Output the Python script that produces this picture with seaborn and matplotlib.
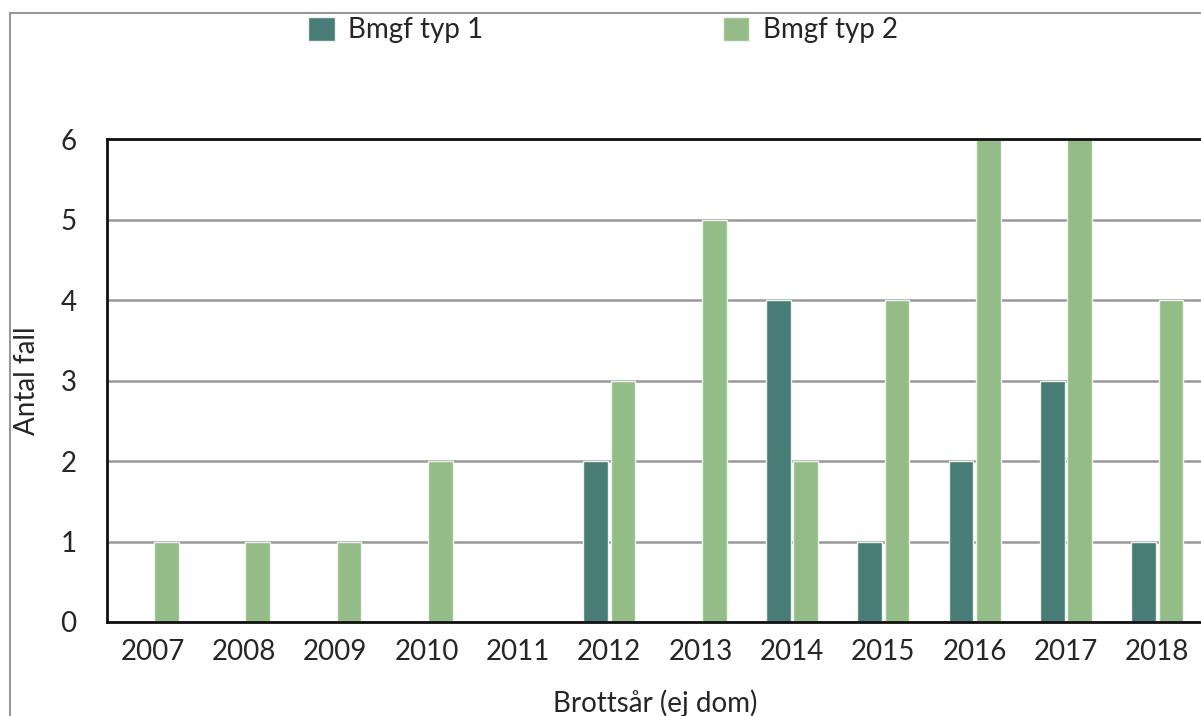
import pandas as pd
import seaborn as sns
import matplotlib.pyplot as plt
from matplotlib.patches import Rectangle

# Data
years = ["2007", "2008", "2009", "2010", "2011", "2012",
         "2013", "2014", "2015", "2016", "2017", "2018"]
typ1 = [0, 0, 0, 0, 0, 2, 0, 4, 1, 2, 3, 1]
typ2 = [1, 1, 1, 2, 0, 3, 5, 2, 4, 6, 6, 4]
series_names = ["Bmgf typ 1", "Bmgf typ 2"]
colors = ["#487D77", "#94BC87"]

df = pd.DataFrame({
    "year": years * 2,
    "count": typ1 + typ2,
    "type": [series_names[0]] * len(years) + [series_names[1]] * len(years),
})

sns.set_style("white")
plt.rcParams["font.family"] = ["Lato", "DejaVu Sans"]

fig = plt.figure(figsize=(12.01, 7.16), dpi=100)
ax = fig.add_axes([107 / 1201, 1 - 622 / 716, 1096 / 1201, 483 / 716])

sns.barplot(data=df, x="year", y="count", hue="type", order=years,
            hue_order=series_names, palette=colors, width=0.6, gap=0.1,
            edgecolor="#eef3ec", linewidth=1, saturation=1, ax=ax, legend=True)

ax.set_ylim(0, 6)
ax.set_xlim(-0.5, len(years) - 0.5)
ax.set_yticks(range(0, 7))
ax.yaxis.grid(True, color="#999999", linewidth=1.8)
ax.set_axisbelow(True)
for side in ["left", "top", "bottom"]:
    ax.spines[side].set_visible(True)
    ax.spines[side].set_color("#111111")
    ax.spines[side].set_linewidth(2)
ax.spines["right"].set_visible(False)
ax.tick_params(axis="both", length=0, labelsize=20, pad=12)
ax.tick_params(axis="y", pad=22)
ax.set_xlabel("Brottsår (ej dom)", fontsize=20, labelpad=18)
ax.set_ylabel("Antal fall", fontsize=20)
ax.yaxis.set_label_coords(-67 / 1096, 0.5)

# legend at the top
handles, labels = ax.get_legend_handles_labels()
ax.get_legend().remove()
fig.legend(handles, labels, loc="center", bbox_to_anchor=(603 / 1201, 1 - 30 / 716),
           ncol=2, frameon=False, fontsize=20, handlelength=0.95, handleheight=0.95,
           handletextpad=0.5, columnspacing=8.6)

# outer frame of the figure
fig.patches.append(Rectangle((9.5 / 1201, -0.2), 1.2, 1.2 - 13 / 716,
                             transform=fig.transFigure, fill=False,
                             edgecolor="#999999", linewidth=1.5))

fig.savefig("out.png", dpi=100)
